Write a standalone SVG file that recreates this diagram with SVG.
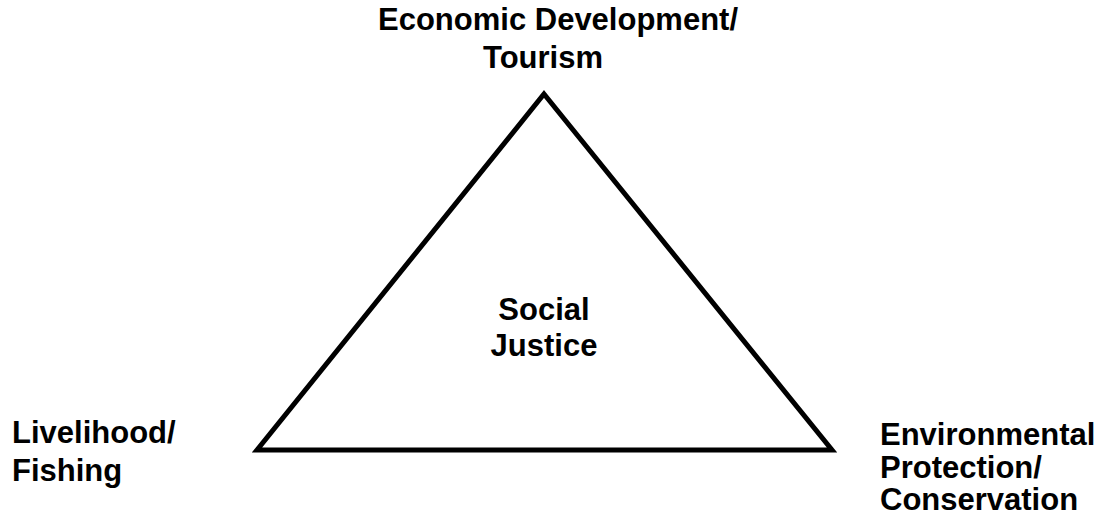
<svg xmlns="http://www.w3.org/2000/svg" width="1104" height="517" viewBox="0 0 1104 517">
<style>
.t{font-family:"Liberation Sans",Arial,sans-serif;font-weight:bold;font-size:31px;fill:#000}
.c{text-anchor:middle}
.tri{fill:none;stroke:#000;stroke-width:5;stroke-linejoin:miter;stroke-miterlimit:10}
</style>
<rect width="1104" height="517" fill="#fff"/>
<g id="connectors">
<polygon class="tri" points="544,94 832,450 257,450"/>
</g>
<g id="node-economic">
<text class="t" x="378" y="30">Economic Development/</text>
<text class="t" x="483" y="68">Tourism</text>
</g>
<g id="node-livelihood">
<text class="t" x="12" y="443">Livelihood/</text>
<text class="t" x="12" y="481">Fishing</text>
</g>
<g id="node-environmental">
<text class="t" x="880" y="445">Environmental</text>
<text class="t" x="880" y="478">Protection/</text>
<text class="t" x="880" y="510">Conservation</text>
</g>
<g id="node-social">
<text class="t c" x="544" y="320">Social</text>
<text class="t c" x="544" y="356">Justice</text>
</g>
</svg>
